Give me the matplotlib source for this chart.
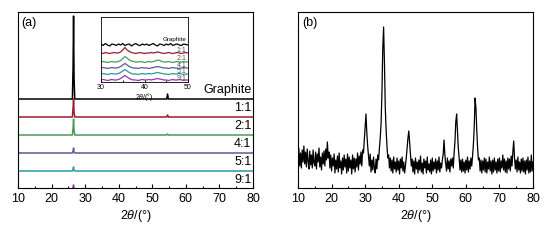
import numpy as np
import matplotlib
matplotlib.use('Agg')
import matplotlib.pyplot as plt
from matplotlib.ticker import MultipleLocator

plt.rcParams['font.family'] = ['Liberation Sans', 'DejaVu Sans']
plt.rcParams['mathtext.fontset'] = 'custom'
plt.rcParams['mathtext.it'] = 'Liberation Sans:italic'
plt.rcParams['mathtext.rm'] = 'Liberation Sans'

# ---- panel (a): stacked XRD patterns (offset units) ----
a_x = [10, 26.2, 26.4, 26.55, 26.7, 26.9, 54.3, 54.55, 54.8, 80]
a_names = ['Graphite', '1:1', '2:1', '4:1', '5:1', '9:1']
a_colors = ['#000000', '#9b1b2b', '#4a9a5a', '#5a5a9a', '#2a9a9a', '#a030b0']
a_base = [89, 71, 53, 35, 17, -1]
a_graphite = [89, 89, 120, 172, 110, 89, 89, 94, 89, 89]
a_11 = [71, 71, 80, 89, 76, 71, 71, 73, 71, 71]
a_21 = [53, 53, 60, 69, 58, 53, 53, 54, 53, 53]
a_41 = [35, 35, 37, 40, 36, 35, 35, 35, 35, 35]
a_51 = [17, 17, 19, 21, 18, 17, 17, 17, 17, 17]
a_91 = [-1, -1, 1, 3, 0, -1, -1, -1, -1, -1]
a_series = [a_graphite, a_11, a_21, a_41, a_51, a_91]

# ---- inset: 30-50 deg zoom ----
in_x = np.arange(30, 50.01, 0.5)
in_graphite = [38, 36.5, 38.5, 37, 36, 38, 37.5, 36.5, 38, 37, 38.5, 36.5, 37.5, 38, 36,
               37.5, 38.5, 37, 36.5, 38, 37, 38, 36.5, 37.5, 38.5, 37, 36, 38, 37.5, 36.5,
               38, 37, 38.5, 36.5, 37.5, 38, 37, 36.5, 38, 37.5, 37]
in_11 = [29, 28.5, 29.5, 29, 28.5, 29, 29.5, 29, 29, 30, 32, 34.5, 32, 30.5, 29.5,
         29, 28.5, 29, 29.5, 29, 28.5, 29, 29, 29.5, 29, 29.5, 30, 29.5, 29, 28.5,
         29, 29.5, 29, 28.5, 29, 29.5, 29, 28.5, 29, 29.5, 29]
in_21 = [20, 20.5, 20, 19.5, 20, 20.5, 20, 20, 20.5, 21.5, 23.5, 25.5, 24, 22, 21,
         20.5, 20, 20, 20.5, 20, 19.5, 20, 20.5, 20, 20.5, 21, 22, 21.5, 20.5, 20,
         20, 20.5, 20, 19.5, 20, 20.5, 20, 20, 20.5, 20, 20]
in_41 = [14, 14.5, 14, 13.5, 14, 14.5, 14, 14, 14.5, 15.5, 17, 18.5, 17, 15.5, 14.5,
         14, 14, 13.5, 14, 14.5, 14, 14, 13.5, 14, 14.5, 15, 15.5, 15, 14.5, 14,
         14, 13.5, 14, 14.5, 14, 14, 13.5, 14, 14.5, 14, 14]
in_51 = [8, 8.5, 8, 7.5, 8, 8.5, 8, 8, 8.5, 9.5, 11, 12.5, 11, 9.5, 8.5,
         8, 8, 7.5, 8, 8.5, 8, 8, 8.5, 8, 8.5, 9, 9.5, 9, 8.5, 8,
         8, 7.5, 8, 8.5, 8, 8, 8.5, 8, 7.5, 8, 8]
in_91 = [2, 2.5, 2, 1.5, 2, 2.5, 2, 2, 2.5, 3.5, 5, 6.5, 5, 3.5, 2.5,
         2, 2, 1.5, 2, 2.5, 2, 2, 2.5, 2, 2.5, 3, 3.5, 3, 2.5, 2,
         2, 1.5, 2, 2.5, 2, 2, 2.5, 2, 1.5, 2, 2]
in_series = [in_graphite, in_11, in_21, in_41, in_51, in_91]
in_label_y = [42, 31, 23, 16.5, 10.5, 4]

# ---- panel (b): single noisy XRD pattern, 0.25 deg steps 10-80 ----
b_x = np.arange(10, 80.01, 0.25)
b_y = [
    28, 40, 22, 35,  20, 38, 26, 42,  24, 36, 21, 39,  27, 19, 37, 23,   # 10-13
    33, 20, 38, 25,  22, 36, 19, 34,  26, 40, 21, 31,  18, 35, 24, 37,   # 14-17
    22, 39, 28, 46,  30, 36, 20, 33,  17, 30, 22, 34,  15, 28, 19, 32,   # 18-21
    16, 35, 20, 27,  14, 30, 18, 33,  21, 29, 15, 34,  17, 31, 20, 28,   # 22-25
    14, 33, 19, 30,  16, 29, 21, 35,  18, 32, 24, 36,  22, 38, 35, 48,   # 26-29
    60, 74, 55, 42,  32, 22, 34, 16,  28, 18, 31, 20,  15, 29, 19, 33,   # 30-33
    28, 40, 50, 65,  95, 140, 161, 125,  80, 58, 42, 30,  33, 20, 30, 17,  # 34-37
    28, 15, 31, 19,  26, 16, 30, 18,  27, 14, 29, 20,  31, 17, 26, 15,   # 38-41
    22, 30, 40, 50,  57, 46, 34, 22,  29, 16, 27, 14,  30, 19, 26, 15,   # 42-45
    28, 18, 32, 16,  25, 14, 29, 20,  27, 15, 31, 18,  24, 16, 28, 14,   # 46-49
    30, 17, 26, 19,  29, 15, 27, 18,  31, 16, 25, 20,  28, 34, 48, 33,   # 50-53
    24, 17, 30, 19,  27, 16, 29, 22,  30, 20, 35, 46,  66, 74, 58, 40,   # 54-57
    30, 18, 28, 16,  29, 17, 26, 15,  28, 18, 31, 16,  27, 19, 30, 22,   # 58-61
    32, 44, 62, 90,  80, 58, 40, 28,  30, 17, 28, 15,  27, 18, 30, 16,   # 62-65
    29, 15, 26, 19,  31, 17, 27, 14,  28, 16, 30, 18,  26, 15, 29, 17,   # 66-69
    30, 16, 27, 20,  33, 18, 29, 16,  27, 15, 30, 19,  29, 17, 32, 22,   # 70-73
    36, 47, 30, 19,  28, 16, 31, 18,  26, 15, 29, 17,  30, 16, 27, 14,   # 74-77
    28, 18, 31, 15,  27, 16, 33, 17,  26,                                # 78-80
]

fig = plt.figure(figsize=(5.52, 2.4), dpi=100)
ax1 = fig.add_axes([18 / 552, 52 / 240, 235 / 552, 176 / 240])
ax2 = fig.add_axes([298 / 552, 52 / 240, 235 / 552, 176 / 240])


def style_axis(ax, fs=9, major=3, minor=1.8):
    ax.set_xlim(10, 80)
    ax.xaxis.set_major_locator(MultipleLocator(10))
    ax.xaxis.set_minor_locator(MultipleLocator(5))
    ax.tick_params(axis='x', which='both', direction='in', labelsize=fs, pad=3.5, width=0.8)
    ax.tick_params(axis='x', which='major', length=major)
    ax.tick_params(axis='x', which='minor', length=minor)
    ax.set_yticks([])
    for s in ax.spines.values():
        s.set_linewidth(0.8)


for name, col, ys, base in zip(a_names, a_colors, a_series, a_base):
    ax1.plot(a_x, ys, color=col, lw=1.1, clip_on=True)
    ax1.text(79.5, base + 9, name, ha='right', va='center', fontsize=9)
ax1.set_ylim(0, 176)
style_axis(ax1)
ax1.set_xlabel(r'$2\theta$/(°)', fontsize=9, labelpad=2)
ax1.text(0.015, 0.94, '(a)', transform=ax1.transAxes, ha='left', va='center', fontsize=9)

# inset
axin = fig.add_axes([101 / 552, 158 / 240, 87 / 552, 65 / 240])
for name, col, ys, ly in zip(a_names, a_colors, in_series, in_label_y):
    axin.plot(in_x, ys, color=col, lw=0.9)
    if name == 'Graphite':
        axin.text(49.6, ly, name, ha='right', va='center', fontsize=4.5)
    else:
        axin.text(49.6, ly, name, ha='right', va='center', fontsize=5, color='#555555')
axin.set_xlim(30, 50)
axin.set_ylim(0, 65)
axin.xaxis.set_major_locator(MultipleLocator(10))
axin.xaxis.set_minor_locator(MultipleLocator(5))
axin.tick_params(axis='x', which='both', direction='in', labelsize=5, pad=1.5, width=0.6)
axin.tick_params(axis='x', which='major', length=2)
axin.tick_params(axis='x', which='minor', length=1.2)
axin.set_yticks([])
for s in axin.spines.values():
    s.set_linewidth(0.6)
axin.set_xlabel(r'$2\theta$/(°)', fontsize=5, labelpad=0)

# panel (b)
ax2.plot(b_x, b_y, color='black', lw=0.9)
ax2.set_ylim(0, 176)
style_axis(ax2)
ax2.set_xlabel(r'$2\theta$/(°)', fontsize=9, labelpad=2)
ax2.text(0.02, 0.94, '(b)', transform=ax2.transAxes, ha='left', va='center', fontsize=9)

fig.savefig('out.png', dpi=100)
